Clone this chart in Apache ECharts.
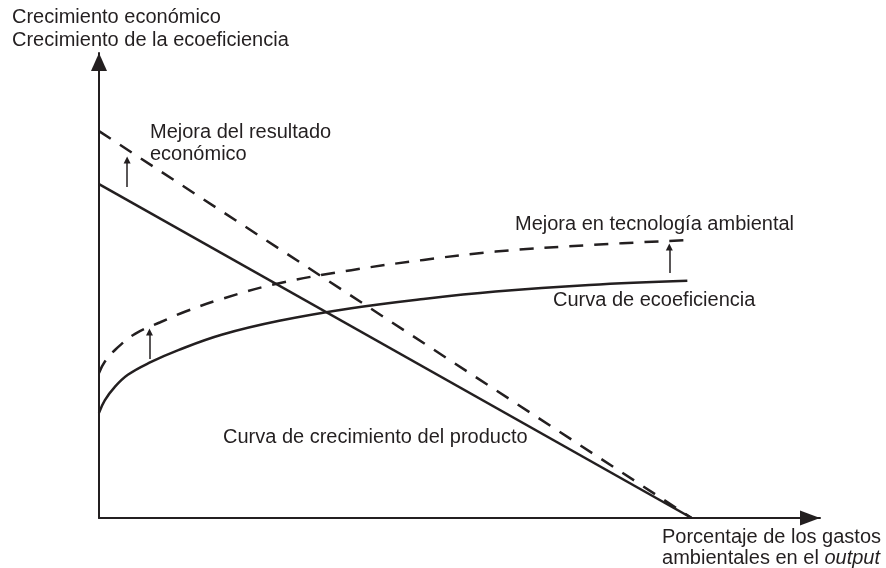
<!DOCTYPE html>
<html>
<head>
<meta charset="utf-8">
<script src="https://cdn.jsdelivr.net/npm/echarts@6/dist/echarts.min.js"></script>
<style>
  html, body { margin: 0; padding: 0; background: #fff; }
  #main { width: 886px; height: 568px; }
</style>
</head>
<body>
<div id="main"></div>
<script>
// valores (x: 0-100 hasta la punta de la flecha, y: 0-100 igual)
const productoX = [0, 82.2];
const productoY = [71.8, 0];
const productoMejoraX = [0, 82.2];
const productoMejoraY = [83.2, 0];
const ecoX = [0, 0.8, 2.2, 4, 7, 11, 17, 25, 35, 45, 55, 68, 81.6];
const ecoY = [22.6, 25.3, 28.2, 30.8, 33.4, 36.1, 39.4, 42.4, 45.1, 47.1, 48.7, 50.1, 51.0];
const ecoMejoraX = [0, 0.8, 2.4, 5, 8.5, 12, 17, 25, 35, 45, 55, 68, 82];
const ecoMejoraY = [31.2, 33.6, 36.4, 39.6, 42.1, 44.4, 47.1, 50.5, 53.3, 55.5, 57.3, 58.7, 59.8];
// flechitas de desplazamiento: [x, y desde, y hasta]
const flechas = [[3.9, 71.2, 77.0], [7.0, 34.2, 40.0], [79.1, 52.7, 58.3]];

const tinta = '#231f20';
const fuente = '20px "Liberation Sans", Arial, sans-serif';

let zip = (xs, ys) => xs.map((x, i) => [x, ys[i]]);

let texto = (t, x, y, align) => ({
  type: 'text',
  x: x,
  y: y,
  style: {
    text: t,
    font: fuente,
    fill: tinta,
    align: align || 'left',
    verticalAlign: 'middle',
  },
});

let myChart = echarts.init(document.getElementById('main'));
myChart.setOption({
  animation: false,
  grid: { left: 99, right: 66, top: 53, bottom: 50 },
  xAxis: {
    type: 'value',
    min: 0,
    max: 100,
    axisLine: {
      onZero: false,
      symbol: ['none', 'triangle'],
      symbolSize: [15, 20],
      symbolOffset: [0, -10],
      lineStyle: { color: tinta, width: 2 },
    },
    axisTick: { show: false },
    axisLabel: { show: false },
    splitLine: { show: false },
  },
  yAxis: {
    type: 'value',
    min: 0,
    max: 100,
    axisLine: {
      show: true,
      onZero: false,
      symbol: ['none', 'triangle'],
      symbolSize: [16, 18],
      symbolOffset: [0, -9],
      lineStyle: { color: tinta, width: 2 },
    },
    axisTick: { show: false },
    axisLabel: { show: false },
    splitLine: { show: false },
  },
  series: [
    {
      name: 'Curva de crecimiento del producto',
      type: 'line',
      data: zip(productoX, productoY),
      symbol: 'none',
      lineStyle: { color: tinta, width: 2.5 },
      markLine: {
        silent: true,
        symbol: ['none', 'triangle'],
        symbolSize: 7,
        label: { show: false },
        lineStyle: { color: tinta, width: 1.5, type: 'solid' },
        data: flechas.map((f) => [{ coord: [f[0], f[1]] }, { coord: [f[0], f[2]] }]),
      },
    },
    {
      name: 'Mejora del resultado económico',
      type: 'line',
      data: zip(productoMejoraX, productoMejoraY),
      symbol: 'none',
      lineStyle: { color: tinta, width: 2.5, type: [14, 11] },
    },
    {
      name: 'Curva de ecoeficiencia',
      type: 'line',
      data: zip(ecoX, ecoY),
      symbol: 'none',
      smooth: 0.4,
      lineStyle: { color: tinta, width: 2.5 },
    },
    {
      name: 'Mejora en tecnología ambiental',
      type: 'line',
      data: zip(ecoMejoraX, ecoMejoraY),
      symbol: 'none',
      smooth: 0.4,
      lineStyle: { color: tinta, width: 2.5, type: [14, 11] },
    },
  ],
  graphic: [
    texto('Crecimiento económico', 12, 17),
    texto('Crecimiento de la ecoeficiencia', 12, 40),
    texto('Mejora del resultado', 150, 132),
    texto('económico', 150, 154),
    texto('Mejora en tecnología ambiental', 515, 224),
    texto('Curva de ecoeficiencia', 553, 300),
    texto('Curva de crecimiento del producto', 223, 437),
    texto('Porcentaje de los gastos', 881, 537, 'right'),
    {
      type: 'text',
      x: 880,
      y: 558,
      style: {
        text: 'ambientales en el {i|output}',
        font: fuente,
        fill: tinta,
        align: 'right',
        verticalAlign: 'middle',
        rich: { i: { font: 'italic ' + fuente, fill: tinta } },
      },
    },
  ],
});

window.addEventListener('resize', function () {
  myChart.resize();
});
</script>
</body>
</html>
